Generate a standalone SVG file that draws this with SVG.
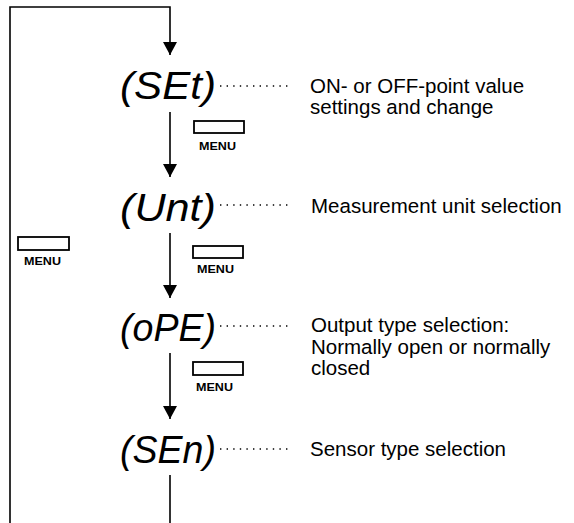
<svg xmlns="http://www.w3.org/2000/svg" width="574" height="523" viewBox="0 0 574 523">
<style>
.disp{font-family:"Liberation Sans",Arial,sans-serif;font-style:italic;font-size:39px;fill:#000}
.desc{font-family:"Liberation Sans",Arial,sans-serif;font-size:20.5px;fill:#000}
.menu{font-family:"Liberation Sans",Arial,sans-serif;font-weight:bold;font-size:10.5px;fill:#000}
.wire{fill:none;stroke:#000;stroke-width:1.6}
.dot{fill:none;stroke:#000;stroke-width:1.3;stroke-dasharray:1.4 5.2}
.btn{fill:#fff;stroke:#000;stroke-width:1.8}
</style>
<defs>
<marker id="ah" markerUnits="userSpaceOnUse" viewBox="0 0 13 14" refX="13" refY="7" markerWidth="13" markerHeight="14" orient="auto">
<path d="M0,0 L13,7 L0,14 z" fill="#000"/>
</marker>
</defs>
<rect width="574" height="523" fill="#fff"/>
<g id="connectors">
<path class="wire" d="M10,523 L10,7 L170,7 L170,55" marker-end="url(#ah)"/>
<path class="wire" d="M170,112 L170,177" marker-end="url(#ah)"/>
<path class="wire" d="M170,233 L170,298" marker-end="url(#ah)"/>
<path class="wire" d="M170,353 L170,419" marker-end="url(#ah)"/>
<path class="wire" d="M170,475 L170,523"/>
</g>
<g id="menu-1">
<rect class="btn" x="194" y="121" width="50" height="12"/>
<text class="menu" x="199" y="150" textLength="37" lengthAdjust="spacingAndGlyphs">MENU</text>
</g>
<g id="menu-2">
<rect class="btn" x="193" y="246" width="50" height="12"/>
<text class="menu" x="197" y="273" textLength="37" lengthAdjust="spacingAndGlyphs">MENU</text>
</g>
<g id="menu-3">
<rect class="btn" x="193" y="362" width="50" height="13"/>
<text class="menu" x="196" y="391" textLength="37" lengthAdjust="spacingAndGlyphs">MENU</text>
</g>
<g id="menu-back">
<rect class="btn" x="18" y="237" width="51" height="13"/>
<text class="menu" x="24" y="265" textLength="37" lengthAdjust="spacingAndGlyphs">MENU</text>
</g>
<g id="node-set">
<text class="disp" x="120" y="99" textLength="96" lengthAdjust="spacingAndGlyphs">(SEt)</text>
<line class="dot" x1="220" y1="86" x2="292" y2="86"/>
<text class="desc" x="310" y="93">ON- or OFF-point value</text>
<text class="desc" x="310" y="114">settings and change</text>
</g>
<g id="node-unt">
<text class="disp" x="120" y="221" textLength="96" lengthAdjust="spacingAndGlyphs">(Unt)</text>
<line class="dot" x1="220" y1="205" x2="292" y2="205"/>
<text class="desc" x="311" y="213">Measurement unit selection</text>
</g>
<g id="node-ope">
<text class="disp" x="120" y="341" textLength="96" lengthAdjust="spacingAndGlyphs">(oPE)</text>
<line class="dot" x1="220" y1="326" x2="292" y2="326"/>
<text class="desc" x="311" y="332">Output type selection:</text>
<text class="desc" x="311" y="353.5">Normally open or normally</text>
<text class="desc" x="311" y="375">closed</text>
</g>
<g id="node-sen">
<text class="disp" x="120" y="463" textLength="96" lengthAdjust="spacingAndGlyphs">(SEn)</text>
<line class="dot" x1="220" y1="449" x2="292" y2="449"/>
<text class="desc" x="310" y="456">Sensor type selection</text>
</g>
</svg>
